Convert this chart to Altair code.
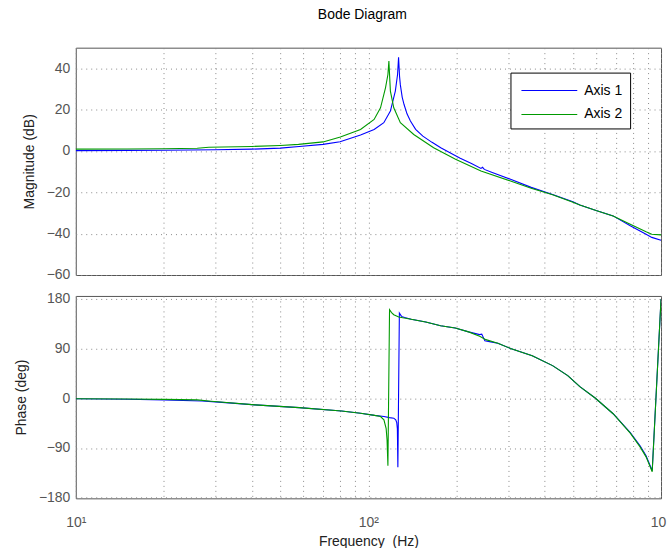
import altair as alt
import pandas as pd

# ---------------- data ----------------
series_names = ["Axis 1", "Axis 2"]
series_colors = ["#0000ff", "#009a00"]

# Magnitude (dB)
freq_mag_axis1 = [10, 15, 20, 30, 40, 50, 58, 70, 80, 94, 104.6, 112.9, 118.9, 123.6, 125.8, 126.8,
                  127.8, 128.6, 130.5, 132.4, 135.5, 139.2, 145, 153.5, 165, 176.7, 190, 206, 225,
                  242.5, 245.5, 249, 265, 306, 360, 426, 500, 528, 600, 686, 785, 889, 930, 1000]
mag_axis1 = [0.2, 0.3, 0.4, 0.6, 0.9, 1.4, 2.2, 3.2, 4.5, 7.7, 10.4, 13.7, 19.3, 29, 37, 45.4,
             36, 32, 26, 22.5, 18, 14.5, 10.5, 7.2, 4.2, 1.6, -0.8, -3.5, -6.0,
             -8.4, -7.9, -8.9, -10.4, -13.7, -17.6, -21.0, -24.6, -26.1, -28.8, -31.4, -36.2, -40.3, -41.8, -43.2]

freq_mag_axis2 = [10, 15, 20, 26, 28.5, 40, 50, 57.7, 70, 80.2, 94, 104.6, 110, 114.4, 116.6, 117.5,
                  118.2, 118.9, 122.1, 128.6, 142.9, 167.1, 198.5, 242.5, 306, 360, 426, 500, 528,
                  600, 686, 785, 889, 930, 1000]
mag_axis2 = [0.9, 1.0, 1.1, 1.3, 1.8, 2.2, 2.7, 3.2, 4.4, 6.8, 10.4, 15.3, 20.9, 30.6, 37, 43.5,
             36, 29, 20.9, 13.7, 8.0, 1.6, -4.0, -9.7, -14.5, -18, -21.2, -24.8, -26.1,
             -28.8, -31.4, -35.4, -39.1, -40.3, -40.6]

# Phase (deg)
freq_ph_axis1 = [10, 15, 20, 27, 30, 41, 58, 81, 94, 105, 113, 118, 122.1, 124, 125, 125.6, 126.1,
                 127.6, 129.8, 133, 140, 157, 176.5, 198, 220, 240, 244, 250, 262, 277, 306, 363,
                 426, 480, 528, 597, 686, 785, 848, 889, 933, 1000]
ph_axis1 = [-1, -1.8, -3, -5, -6.5, -12, -17, -23, -27, -31, -33, -35, -36, -39, -44, -55, -125,
            154, 148, 146, 143, 138, 131, 127, 120, 115, 116, 104, 102, 99.6, 90, 77,
            59, 41, 21, 0, -28, -62, -86, -104, -131, 179]

freq_ph_axis2 = [10, 15, 20, 26, 29, 41, 58, 81, 94, 105, 110, 113, 115, 115.8, 116.6, 118.1, 120,
                 122.1, 127, 132.5, 140, 157, 176.5, 198, 220, 240, 252, 277, 306, 363, 426, 480,
                 528, 597, 686, 785, 848, 889, 933, 1000]
ph_axis2 = [-1, -1.5, -2, -3, -5.5, -12, -17, -23, -27, -31, -33, -39, -55, -75, -122, 160, 155,
            151, 147, 145, 143, 138, 131, 127, 120, 112, 106, 99.6, 90, 77, 59, 41,
            21, 0, -28, -63, -88, -106, -133, 179]

grid_freqs = [10, 20, 30, 40, 50, 60, 70, 80, 90, 100, 200, 300, 400, 500, 600, 700, 800, 900, 1000]
mag_ticks = [-60, -40, -20, 0, 20, 40]
phase_ticks = [-180, -90, 0, 90, 180]


def table(f, v, name):
    return pd.DataFrame({"f": f, "v": v, "series": name})


mag_df = pd.concat([table(freq_mag_axis1, mag_axis1, series_names[0]),
                    table(freq_mag_axis2, mag_axis2, series_names[1])], ignore_index=True)
ph_df = pd.concat([table(freq_ph_axis1, ph_axis1, series_names[0]),
                   table(freq_ph_axis2, ph_axis2, series_names[1])], ignore_index=True)

FONT = "Liberation Sans"
W = 587
xscale = alt.Scale(type="log", domain=[10, 1000], nice=False)
axis_style = dict(grid=True, gridColor="#8a8a8a", gridDash=[1, 4], gridWidth=1,
                  labelFont=FONT, labelFontSize=14, labelColor="#555555",
                  titleFont=FONT, titleFontSize=14, titleFontWeight="normal", titleColor="#222222")

# the reference figure is cropped at its right edge, so only "10" of the last label shows
label_expr = ("datum.value == 10 ? '10\u00b9' : datum.value == 100 ? '10\u00b2' : "
              "datum.value == 1000 ? '10' : ''")

color_top = alt.Color(
    "series:N",
    scale=alt.Scale(domain=series_names, range=series_colors),
    legend=alt.Legend(
        orient="none", legendX=436, legendY=25, title=None,
        symbolType="M-2.8,0H2.8", symbolSize=400, symbolStrokeWidth=1.1,
        symbolOffset=21, labelOffset=24,
        labelFont=FONT, labelFontSize=14, labelColor="#000000",
        strokeColor="#000000", fillColor="#ffffff", padding=7, rowPadding=6,
    ),
)
color_bottom = alt.Color(
    "series:N",
    scale=alt.Scale(domain=series_names, range=series_colors),
    legend=None,
)

top = alt.Chart(mag_df).mark_line(strokeWidth=1.1, clip=True).encode(
    x=alt.X("f:Q", scale=xscale,
            axis=alt.Axis(values=grid_freqs, labels=False, ticks=False, domain=False, title=None,
                          **axis_style)),
    y=alt.Y("v:Q", scale=alt.Scale(domain=[-60, 50], nice=False, zero=False),
            axis=alt.Axis(values=mag_ticks, title="Magnitude (dB)", ticks=False, domain=False,
                          labelPadding=6, titlePadding=10, **axis_style)),
    color=color_top,
).properties(
    width=W, height=228,
    title=alt.TitleParams("Bode Diagram", font=FONT, fontSize=14, fontWeight="normal",
                          color="#000000", anchor="middle", frame="group", offset=26, dx=-6),
)

bottom = alt.Chart(ph_df).mark_line(strokeWidth=1.1, clip=True).encode(
    x=alt.X("f:Q", scale=xscale,
            axis=alt.Axis(values=grid_freqs, labelExpr=label_expr, labelOverlap=False,
                          labelFlush=False, ticks=False, domain=False,
                          labelOffset={"condition": {"test": "datum.value == 1000", "value": -3},
                                       "value": 0},
                          title="Frequency\u00a0 (Hz)", labelPadding=17, titlePadding=5,
                          **axis_style)),
    y=alt.Y("v:Q", scale=alt.Scale(domain=[-181, 185], nice=False, zero=False),
            axis=alt.Axis(values=phase_ticks, title="Phase (deg)", ticks=False, domain=False,
                          labelPadding=6, titlePadding=10, **axis_style)),
    color=color_bottom,
).properties(width=W, height=203)

chart = alt.vconcat(top, bottom, spacing=8).resolve_scale(color="independent").properties(
    padding={"left": 13, "top": 6, "right": 0, "bottom": 2},
    background="#ffffff",
).configure_view(
    stroke="#555555", strokeWidth=1,
)

chart.save("out.html", embed_options={"renderer": "svg", "actions": False})
